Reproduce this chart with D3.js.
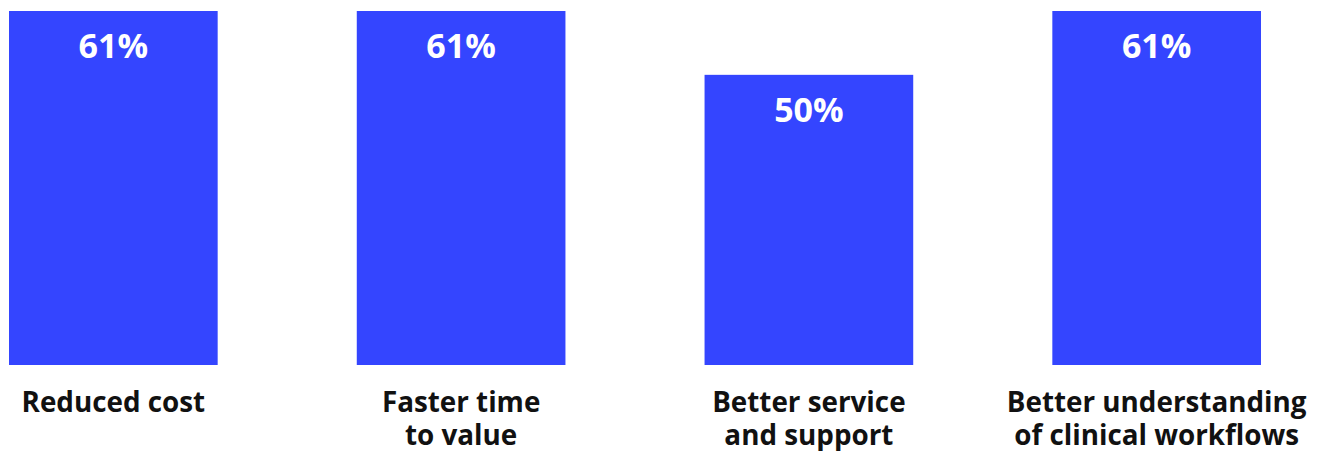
<!DOCTYPE html>
<html>
<head>
<meta charset="utf-8">
<script src="https://cdn.jsdelivr.net/npm/d3@7"></script>
<style>
  html, body { margin: 0; padding: 0; background: #fff; }
  svg { display: block; font-family: "Open Sans", "Noto Sans", sans-serif; }
</style>
</head>
<body>
<div id="container"></div>
<script>
const width = 1320, height = 451;

// --- Data ---
const categories = ["Reduced cost", "Faster time to value", "Better service and support", "Better understanding of clinical workflows"];
const labelLines = [["Reduced cost"], ["Faster time", "to value"], ["Better service", "and support"], ["Better understanding", "of clinical workflows"]];
const values = [61, 61, 50, 61];

const barColor = "#3445ff";

const svg = d3.select("#container").append("svg")
  .attr("width", width).attr("height", height);

const x = d3.scaleBand().domain(categories).range([9, 1261]).paddingInner(0.4).paddingOuter(0);
const y = d3.scaleLinear().domain([0, 61]).range([365, 11]);

const g = svg.append("g");

g.selectAll("rect.bar").data(values).join("rect")
  .attr("class", "bar")
  .attr("x", (d, i) => x(categories[i]))
  .attr("y", d => y(d))
  .attr("width", x.bandwidth())
  .attr("height", d => y(0) - y(d))
  .attr("fill", barColor);

// Value labels inside bars
g.selectAll("text.val").data(values).join("text")
  .attr("class", "val")
  .attr("x", (d, i) => x(categories[i]) + x.bandwidth() / 2)
  .attr("y", d => y(d) + 47)
  .attr("text-anchor", "middle")
  .attr("fill", "#fff")
  .style("font-size", "34px").style("font-weight", "700")
  .text(d => d + "%");

// Category labels
const lab = g.selectAll("text.cat").data(labelLines).join("text")
  .attr("class", "cat")
  .attr("x", (d, i) => x(categories[i]) + x.bandwidth() / 2)
  .attr("y", 412)
  .attr("text-anchor", "middle")
  .attr("fill", "#111")
  .style("font-size", "27.8px").style("font-weight", "700");
lab.each(function (lines) {
  const t = d3.select(this);
  const cx = t.attr("x");
  lines.forEach((l, j) => {
    t.append("tspan").attr("x", cx).attr("dy", j === 0 ? 0 : 33).text(l);
  });
});
</script>
</body>
</html>
